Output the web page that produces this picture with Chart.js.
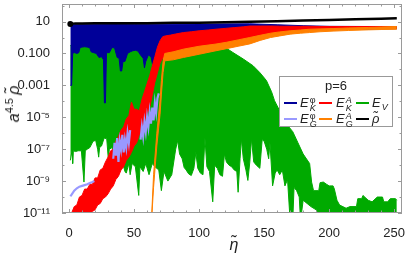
<!DOCTYPE html>
<html>
<head>
<meta charset="utf-8">
<script src="https://cdn.jsdelivr.net/npm/chart.js@4.4.1/dist/chart.umd.min.js"></script>
<style>
html,body{margin:0;padding:0;background:#fff;}
#wrap{position:relative;width:409px;height:256px;overflow:hidden;font-family:"Liberation Sans",Arial,sans-serif;color:#222;}
#c{position:absolute;left:0;top:0;}
#ytitle{position:absolute;left:13px;top:104px;transform:translate(-50%,-50%) rotate(-90deg);font-size:16px;white-space:nowrap;line-height:1;}
#ytitle sup{font-size:11px;font-style:normal;vertical-align:6px;}
#xtitle{position:absolute;left:234px;top:245px;transform:translate(-50%,-50%);font-size:16px;font-style:italic;line-height:1;}
#legend{position:absolute;left:279px;top:76px;width:112px;height:49px;border:1px solid #999;background:#fff;}
#legend .lt{position:absolute;left:0;width:112px;top:1px;text-align:center;font-size:13px;line-height:15px;}
#legend .sw{position:absolute;width:13px;height:2px;}
#legend .lb{position:absolute;font-size:13px;line-height:15px;white-space:nowrap;}
#legend .ss{display:inline-block;vertical-align:middle;font-size:9px;line-height:8px;margin-left:1px;}
#legend .ss span{display:block;}
#legend .sb{display:inline-block;font-size:9px;vertical-align:-3px;font-style:italic;margin-left:1px;}
</style>
</head>
<body>
<div id="wrap">
<canvas id="c" width="409" height="256"></canvas>
<div id="ytitle"><i>a</i><sup>4.5</sup>&thinsp;<i>ρ̃</i></div>
<div id="xtitle">η̃</div>
<div id="legend">
  <div class="lt">p=6</div>
  <div class="sw" style="left:4px;top:25px;background:#000099"></div>
  <div class="lb" style="left:20px;top:18px"><i>E</i><span class="ss"><span>φ</span><span><i>K</i></span></span></div>
  <div class="sw" style="left:39px;top:25px;background:#ff0000"></div>
  <div class="lb" style="left:56px;top:18px"><i>E</i><span class="ss"><span><i>A</i></span><span><i>K</i></span></span></div>
  <div class="sw" style="left:76px;top:25px;background:#00aa00"></div>
  <div class="lb" style="left:92px;top:18px"><i>E</i><span class="sb">V</span></div>
  <div class="sw" style="left:4px;top:41px;background:#9999ff"></div>
  <div class="lb" style="left:20px;top:34px"><i>E</i><span class="ss"><span>φ</span><span><i>G</i></span></span></div>
  <div class="sw" style="left:39px;top:41px;background:#ff8000"></div>
  <div class="lb" style="left:56px;top:34px"><i>E</i><span class="ss"><span><i>A</i></span><span><i>G</i></span></span></div>
  <div class="sw" style="left:76px;top:41px;background:#000000"></div>
  <div class="lb" style="left:92px;top:34px"><i>ρ̃</i></div>
</div>
</div>
<script>
// ---- values (y stored as log10 of the plotted value) ----
const rhoX   = [1, 2, 3, 5, 10, 20, 40, 60, 80, 100, 120, 139, 160, 180, 200, 220, 240, 252];
const rhoLog = [0.84, 0.86, 0.87, 0.88, 0.88, 0.89, 0.9, 0.9, 0.92, 0.93, 0.95, 0.98, 1.02, 1.06, 1.1, 1.14, 1.18, 1.21];

const eKphiTopX   = [1, 50, 100, 139, 160, 180, 200, 252];
const eKphiTopLog = [0.8, 0.82, 0.84, 0.86, 0.8, 0.74, 0.7, 0.68];
const eKphiLowX   = [1, 2, 2.8, 4, 6, 7.5, 8.5, 10, 12, 14, 16, 17, 19, 21, 23, 25, 26.5, 27.2, 28, 28.8, 31, 33, 35, 37, 38.5, 39.5, 40.5, 41.5, 43, 45, 47, 49, 51, 53, 55, 57, 58, 59, 61, 63, 65, 66, 68, 70, 72, 80, 140, 252];
const eKphiLowLog = [-3.0, -3.0, -1.0, -0.94, -1.0, -0.95, -0.63, -0.6, -0.58, -0.6, -0.65, -0.9, -0.95, -1.0, -1.25, -1.2, -1.4, -4.1, -4.1, -0.95, -0.95, -0.63, -0.65, -1.25, -1.3, -2.1, -2.1, -1.5, -1.5, -1.0, -0.9, -0.83, -0.8, -0.85, -1.1, -1.3, -1.9, -1.5, -1.1, -1.2, -2.0, -1.6, -1.0, -0.5, -0.3, -0.2, 0.4, 0.55];

const eKAX     = [2,4,6,8,10,12,14,16,18,20,22,24,26,28,30,32,34,36,38,40,42,44,46,48,50,52,54,56,58,60,62,64,66,68,70,72,74,78,82,88,94,100,107,113,120,127,134,139,147,155,162,170,178,185,193,200,210,220,235,252];
const eKAHiLog = [-11.0,-10.6,-10.5,-10.0,-9.9,-9.5,-9.5,-9.2,-9.2,-8.8,-8.8,-8.3,-8.2,-7.8,-7.5,-7.1,-7.0,-6.5,-6.2,-5.8,-5.6,-5.1,-4.9,-4.05,-4.5,-4.5,-4.6,-3.9,-3.4,-2.9,-2.4,-1.8,-1.2,-0.6,-0.2,0.05,0.1,0.15,0.22,0.31,0.36,0.42,0.47,0.52,0.57,0.62,0.67,0.72,0.72,0.72,0.71,0.7,0.7,0.7,0.69,0.69,0.69,0.69,0.69,0.69];
const eKALoLog = [-11.3,-11.2,-11.2,-11.1,-11.2,-11.0,-11.1,-11.0,-10.9,-10.8,-10.5,-10.4,-10.1,-10.0,-9.8,-9.5,-9.3,-8.9,-8.7,-8.3,-8.1,-7.7,-7.5,-7.2,-6.8,-6.6,-6.1,-5.8,-5.3,-4.8,-4.4,-3.6,-2.8,-2.2,-1.6,-1.3,-1.2,-1.1,-1.0,-0.85,-0.75,-0.6,-0.55,-0.45,-0.4,-0.3,-0.2,-0.1,0.05,0.2,0.3,0.35,0.4,0.45,0.5,0.5,0.55,0.55,0.56,0.58];

const eGAX     = [63.5, 65, 67.5, 70, 71, 72.3, 73.6, 80, 88, 100, 113, 121, 130, 139, 147, 155, 162, 170, 178, 185, 193, 203, 215, 230, 240, 252];
const eGAHiLog = [-11.2, -8.6, -6.0, -3.9, -2.7, -1.5, -1.0, -0.9, -0.73, -0.55, -0.41, -0.3, -0.15, 0.0, 0.14, 0.27, 0.35, 0.42, 0.47, 0.52, 0.54, 0.56, 0.6, 0.63, 0.66, 0.69];
const eGALoLog = [-11.4, -9.4, -6.8, -4.8, -3.6, -2.2, -1.46, -1.4, -1.25, -1.05, -0.83, -0.7, -0.55, -0.4, -0.18, 0.0, 0.1, 0.21, 0.27, 0.31, 0.36, 0.4, 0.44, 0.48, 0.5, 0.52];

const eGphiX   = [1,2,4,6,8,10,12,14,16,18,19.5,27,34,35,36,37,38,39,40,41,42,43,44,45,46,47,51,55,56,57,58,59,60,61,62,63,64,65,66,67,68,69];
const eGphiLog = [-9.95,-9.85,-9.6,-9.45,-9.35,-9.3,-9.25,-9.2,-9.12,-9.06,-9.0,null,-7.6,-6.6,-7.4,-6.3,-7.8,-6.5,-7.0,-6.1,-7.2,-6.4,-6.9,-6.0,-6.6,-5.8,null,-6.4,-5.6,-6.2,-5.3,-5.9,-5.0,-5.6,-4.7,-5.4,-4.4,-5.2,-4.1,-4.7,-3.8,-3.5];

const eVTopX   = [1, 66, 70, 73.6, 80, 88, 100, 113, 118.5, 121, 126, 134, 141.5, 146.7, 151.8, 155.7, 158, 162, 167, 172, 176, 180, 185, 186.5, 188, 192, 193, 195.5, 198, 200, 203, 204, 206, 208, 213, 216, 221, 222, 225, 226, 230, 233, 237, 241, 242, 245, 247, 251, 252];
const eVTopLog = [-0.5, -0.5, -1.2, -1.4, -1.35, -1.2, -1.0, -0.8, -0.73, -0.67, -0.94, -1.35, -1.77, -2.2, -2.7, -3.4, -3.96, -4.6, -5.4, -5.9, -6.6, -7.3, -7.9, -9.06, -9.6, -9.6, -9.1, -9.06, -9.2, -9.3, -9.3, -9.5, -10.2, -10.5, -10.7, -10.6, -10.6, -10.1, -10.1, -9.9, -10.2, -10.3, -10.0, -10.0, -10.3, -10.3, -10.1, -10.1, -10.2];
const eVBotX   = [1,2.3,2.8,3.3,5,7,9.5,10.2,11.5,12.5,14,16,18.5,20.5,22,22.8,23.5,25,27,29,30.2,31,33,35.5,37.5,38.5,41,43,44,46,47,48.5,51,53.6,54.5,57,59,61.5,64,66,69,71,73,76,79,82,83.5,85,87,88.5,90,92,94,96,97.5,99,101,103,104.5,106,108,110.5,112,114,116,118,119.5,121,123,125,127,129,130,131.5,132.5,134,136,137.5,139,140.3,142,144,146.7,148.5,150,152,153.5,154.5,156.5,158.5,160,162,164,166,168,170,172,173,175,177,178,180,183,186,190,195,252];
const eVBotLog = [-7.7,-7.1,-7.9,-7.1,-7.15,-7.1,-7.1,-7.8,-9.06,-7.1,-7.0,-6.9,-6.5,-6.45,-7.0,-7.5,-6.9,-6.8,-6.3,-6.35,-7.6,-7.0,-6.9,-7.4,-8.2,-7.5,-7.8,-8.4,-8.5,-7.9,-8.6,-7.9,-8.1,-9.9,-8.1,-8.4,-7.9,-8.6,-7.9,-8.1,-8.3,-9.6,-8.4,-9.0,-8.6,-7.0,-6.46,-7.3,-7.6,-8.15,-8.3,-8.55,-8.65,-8.2,-7.2,-8.2,-8.5,-8.6,-6.3,-8.1,-8.4,-10.3,-8.0,-8.2,-8.6,-8.7,-7.3,-7.8,-8.0,-8.1,-8.3,-8.4,-9.7,-7.6,-6.35,-7.6,-8.3,-8.96,-7.8,-6.35,-7.8,-8.0,-8.2,-6.4,-6.5,-7.0,-7.6,-6.6,-9.3,-8.5,-8.3,-8.6,-8.3,-9.3,-8.9,-11.5,-11.5,-9.4,-9.6,-10.0,-11.5,-10.2,-10.4,-10.6,-10.8,-11.5,-11.5];

const xMajorTicks = [0, 50, 100, 150, 200, 250];
const xMinorTicks = [10, 20, 30, 40, 60, 70, 80, 90, 110, 120, 130, 140, 160, 170, 180, 190, 210, 220, 230, 240];
const yTickVals   = [1e-11, 1e-9, 1e-7, 1e-5, 1e-3, 1e-1, 10];
const yTickLabels = ['10⁻¹¹', '10⁻⁹', '10⁻⁷', '10⁻⁵', '0.001', '0.100', '10'];
const yMinorTicks = [1e-10, 1e-8, 1e-6, 1e-4, 1e-2, 1, 100];

const C_KPHI = '#000099', C_KA = '#ff0000', C_V = '#00aa00', C_GPHI = '#9999ff', C_GA = '#ff8000', C_RHO = '#000000';

function pts(xs, logs) {
  return xs.map((x, i) => ({ x: x, y: logs[i] === null ? null : Math.pow(10, logs[i]) }));
}
function band(name, xt, lt, xb, lb, color, order) {
  return [
    { label: name + ' upper', data: pts(xt, lt), borderColor: color, backgroundColor: color, borderWidth: 1, pointRadius: 0, fill: false, order: order },
    { label: name + ' lower', data: pts(xb, lb), borderColor: color, backgroundColor: color, borderWidth: 1, pointRadius: 0, fill: '-1', order: order }
  ];
}

const datasets = [].concat(
  band('E_V', eVTopX, eVTopLog, eVBotX, eVBotLog, C_V, 60),
  band('E_K^phi', eKphiTopX, eKphiTopLog, eKphiLowX, eKphiLowLog, C_KPHI, 50),
  band('E_K^A', eKAX, eKAHiLog, eKAX, eKALoLog, C_KA, 40),
  [{ label: 'E_G^phi', data: pts(eGphiX, eGphiLog), borderColor: C_GPHI, borderWidth: 2.2, pointRadius: 0, fill: false, spanGaps: false, order: 35 }],
  band('E_G^A', eGAX, eGAHiLog, eGAX, eGALoLog, C_GA, 30),
  [{ label: 'rho', data: pts(rhoX, rhoLog), borderColor: C_RHO, borderWidth: 2.5, pointRadius: c => c.dataIndex === 0 ? 3 : 0, pointBackgroundColor: C_RHO, pointBorderWidth: 0, fill: false, order: 10 }]
);

const framePlugin = {
  id: 'frame',
  afterDatasetsDraw(chart) {
    const { ctx, chartArea: a, scales } = chart;
    const xs = scales.x, ys = scales.y;
    ctx.save();
    ctx.strokeStyle = '#9a9a9a';
    ctx.lineWidth = 1;
    ctx.strokeRect(a.left + 0.5, a.top + 0.5, a.right - a.left - 1, a.bottom - a.top - 1);
    ctx.beginPath();
    const tx = (v, len) => { const p = Math.round(xs.getPixelForValue(v)) + 0.5; ctx.moveTo(p, a.bottom); ctx.lineTo(p, a.bottom - len); ctx.moveTo(p, a.top); ctx.lineTo(p, a.top + len); };
    const ty = (v, len) => { const p = Math.round(ys.getPixelForValue(v)) + 0.5; ctx.moveTo(a.left, p); ctx.lineTo(a.left + len, p); ctx.moveTo(a.right, p); ctx.lineTo(a.right - len, p); };
    xMajorTicks.forEach(v => tx(v, 4));
    xMinorTicks.forEach(v => tx(v, 2.5));
    yTickVals.forEach(v => ty(v, 4));
    yMinorTicks.forEach(v => ty(v, 2.5));
    ctx.stroke();
    ctx.restore();
  }
};

new Chart(document.getElementById('c'), {
  type: 'line',
  data: { datasets: datasets },
  options: {
    responsive: false,
    animation: false,
    devicePixelRatio: 1,
    layout: { padding: { left: 0, right: 7, top: 3, bottom: 0 } },
    plugins: { legend: { display: false }, tooltip: { enabled: false } },
    elements: { line: { tension: 0 } },
    scales: {
      x: {
        type: 'linear', min: -5.4, max: 256,
        grid: { display: false }, border: { display: false },
        afterBuildTicks: s => { s.ticks = xMajorTicks.map(v => ({ value: v })); },
        afterFit: s => { s.height = 43; s.paddingLeft = 0; s.paddingRight = 0; },
        ticks: { autoSkip: false, maxRotation: 0, padding: 5, color: '#222', font: { family: 'Liberation Sans', size: 13 }, callback: v => String(v) }
      },
      y: {
        type: 'logarithmic', min: 1e-11, max: Math.pow(10, 2.1),
        grid: { display: false }, border: { display: false },
        afterBuildTicks: s => { s.ticks = yTickVals.map(v => ({ value: v })); },
        afterFit: s => { s.width = 62; s.paddingTop = 0; s.paddingBottom = 0; },
        ticks: { autoSkip: false, padding: 4, color: '#222', font: { family: 'Liberation Sans', size: 13 }, callback: (v, i) => yTickLabels[i] }
      }
    }
  },
  plugins: [framePlugin]
});
</script>
</body>
</html>
